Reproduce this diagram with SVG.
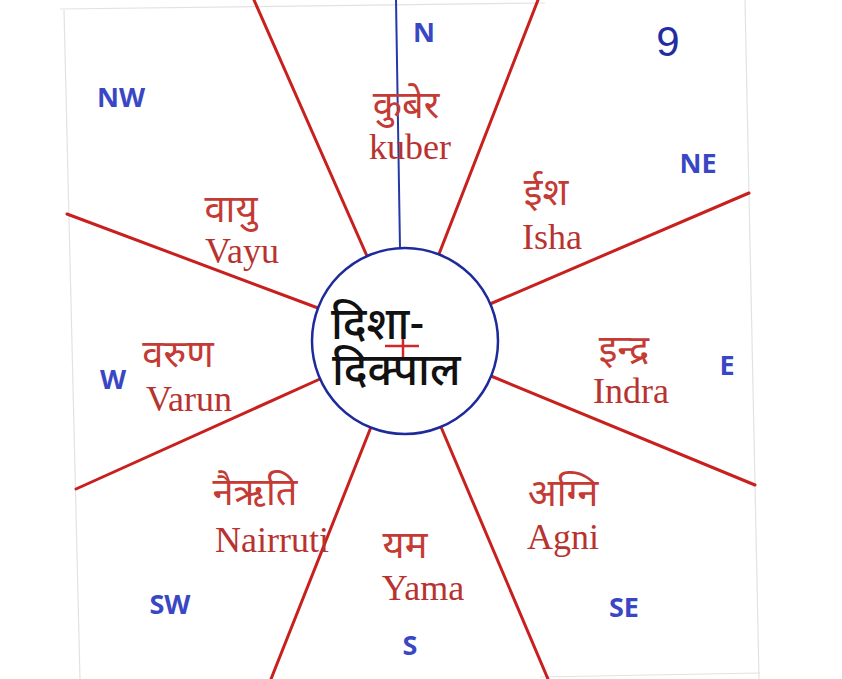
<svg xmlns="http://www.w3.org/2000/svg" width="842" height="679" viewBox="0 0 842 679">
<style>
.page{stroke:#e2e2e2;stroke-width:1.2;fill:none}
.ray{stroke:#c8201e;stroke-width:3;stroke-linecap:round;fill:none}
.dir{font-family:"Open Sans","Liberation Sans",sans-serif;font-weight:700;font-size:27px;fill:#3a47c4;text-anchor:middle}
.hi{font-family:"Noto Sans Devanagari","Noto Serif Devanagari","Lohit Devanagari","Noto Sans",sans-serif;font-size:38px;fill:#c43a34;text-anchor:middle}
.en{font-family:"Liberation Serif","Times New Roman",serif;font-size:36px;fill:#b8332f;text-anchor:middle}
.ctr{font-family:"Noto Sans Devanagari","Lohit Devanagari","Noto Sans",sans-serif;font-size:44px;fill:#111;font-weight:500}
</style>
<rect width="842" height="679" fill="#ffffff"/>
<g id="page">
<line class="page" x1="60" y1="9" x2="545" y2="3"/>
<line class="page" x1="64" y1="10" x2="80" y2="679"/>
<line class="page" x1="745" y1="0" x2="759" y2="679"/>
<line class="page" x1="540" y1="677" x2="760" y2="673"/>
</g>
<g id="connectors">
<line class="ray" x1="254" y1="0" x2="367" y2="256"/>
<line class="ray" x1="538" y1="0" x2="439" y2="254"/>
<line class="ray" x1="749" y1="193" x2="490" y2="304"/>
<line class="ray" x1="755" y1="485" x2="491" y2="376"/>
<line class="ray" x1="67" y1="214" x2="318" y2="308"/>
<line class="ray" x1="76" y1="489" x2="320" y2="379"/>
<line class="ray" x1="271" y1="679" x2="371" y2="427"/>
<line class="ray" x1="548" y1="679" x2="441" y2="427"/>
<line x1="396" y1="0" x2="400" y2="248" stroke="#2438a8" stroke-width="2"/>
</g>
<g id="center">
<circle cx="405" cy="341" r="93" fill="#ffffff" stroke="#1e2a9c" stroke-width="2.5"/>
<line x1="385" y1="346" x2="419" y2="346" stroke="#d0282a" stroke-width="2.5"/>
<line x1="403" y1="328" x2="403" y2="360" stroke="#d0282a" stroke-width="2.5"/>
<text class="ctr" x="331" y="339">दिशा-</text>
<text class="ctr" x="332" y="385">दिक्पाल</text>
</g>
<g id="kuber"><text class="hi" x="406" y="118">कुबेर</text><text class="en" x="410" y="159">kuber</text></g>
<g id="isha"><text class="hi" x="546" y="205">ईश</text><text class="en" x="552" y="249">Isha</text></g>
<g id="indra"><text class="hi" x="624" y="362">इन्द्र</text><text class="en" x="631" y="403">Indra</text></g>
<g id="agni"><text class="hi" x="563" y="506">अग्नि</text><text class="en" x="563" y="549">Agni</text></g>
<g id="yama"><text class="hi" x="405" y="558">यम</text><text class="en" x="423" y="600">Yama</text></g>
<g id="nairruti"><text class="hi" x="255" y="505">नैऋति</text><text class="en" x="272" y="552">Nairruti</text></g>
<g id="varun"><text class="hi" x="178" y="367">वरुण</text><text class="en" x="189" y="411">Varun</text></g>
<g id="vayu"><text class="hi" x="231" y="222">वायु</text><text class="en" x="242" y="263">Vayu</text></g>
<g id="directions">
<text class="dir" x="424" y="42">N</text>
<text class="dir" x="698" y="173">NE</text>
<text class="dir" x="727" y="375">E</text>
<text class="dir" x="624" y="617">SE</text>
<text class="dir" x="410" y="655">S</text>
<text class="dir" x="170" y="614">SW</text>
<text class="dir" x="113" y="389">W</text>
<text class="dir" x="121" y="107">NW</text>
</g>
<text x="668" y="56" font-family="'Liberation Sans',Arial,sans-serif" font-size="42" fill="#1f2ea0" text-anchor="middle">9</text>
</svg>
